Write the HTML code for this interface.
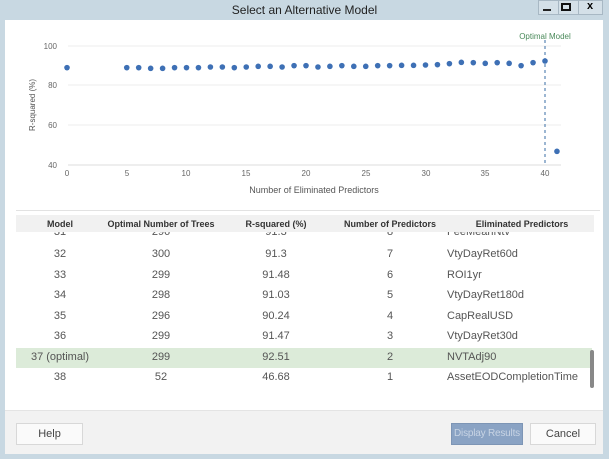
<!DOCTYPE html>
<html><head><meta charset="utf-8"><style>
*{margin:0;padding:0;box-sizing:border-box}
body{width:609px;height:459px;background:#c8d8e2;font-family:"Liberation Sans",sans-serif;position:relative;overflow:hidden}
.abs{position:absolute}
.title{left:0;top:0;width:609px;height:20px;text-align:center;font-size:12px;line-height:20px;color:#222}
.main{left:5px;top:20px;width:598px;height:390px;background:#fff}
.foot{left:5px;top:410px;width:598px;height:44px;background:#f2f2f2;border-top:1px solid #e4e4e4}
.btn{position:absolute;height:22px;border:1px solid #d8d8d8;background:#fafafa;font-size:11px;line-height:20px;text-align:center;color:#444;white-space:nowrap;overflow:hidden}
.cell{position:absolute;font-size:11px;color:#555;transform:translateX(-50%);white-space:nowrap}
.hd{position:absolute;font-size:9px;font-weight:bold;color:#333;transform:translateX(-50%);white-space:nowrap}
</style></head><body>
<div class="abs title">Select an Alternative Model</div>
<div class="abs" style="left:538px;top:0;width:65px;height:15px;background:#d4e0e8;border:1px solid #a8b8c4"></div>
<div class="abs" style="left:543px;top:9px;width:8px;height:2px;background:#222"></div>
<div class="abs" style="left:561px;top:3px;width:10px;height:8px;border:2px solid #111"></div>
<div class="abs" style="left:558px;top:0;width:1px;height:15px;background:#a8b8c4"></div>
<div class="abs" style="left:578px;top:0;width:1px;height:15px;background:#a8b8c4"></div>
<div class="abs" style="left:587px;top:0;font-size:11px;font-weight:bold">x</div>
<div class="abs main"></div>
<svg class="abs" style="left:0;top:0" width="609" height="210" font-family="Liberation Sans, sans-serif">
<g stroke="#ececec" stroke-width="1">
<line x1="68" x2="561" y1="46" y2="46"/><line x1="68" x2="561" y1="85" y2="85"/><line x1="68" x2="561" y1="125" y2="125"/>
</g>
<line x1="68" x2="561" y1="165" y2="165" stroke="#dcdcdc"/>
<g font-size="8" fill="#666" text-anchor="end">
<text x="57" y="49">100</text><text x="57" y="88">80</text><text x="57" y="128">60</text><text x="57" y="168">40</text></g>
<g font-size="8" fill="#666" text-anchor="middle">
<text x="67" y="176">0</text><text x="127" y="176">5</text><text x="186" y="176">10</text><text x="246" y="176">15</text><text x="306" y="176">20</text><text x="366" y="176">25</text><text x="426" y="176">30</text><text x="485" y="176">35</text><text x="545" y="176">40</text></g>
<text x="314" y="193" font-size="9" fill="#555" text-anchor="middle">Number of Eliminated Predictors</text>
<text transform="translate(35,105) rotate(-90)" font-size="8" fill="#555" text-anchor="middle">R-squared (%)</text>
<line x1="545" x2="545" y1="40" y2="165" stroke="#3a6ea5" stroke-dasharray="3,3"/>
<text x="545" y="39" font-size="8" fill="#4a8a5a" text-anchor="middle">Optimal Model</text>
<g fill="#3e70b5" id="pts"></g>
</svg>
<script>
var ys={0:203,5:203,6:203,7:205,8:205,9:203,10:203,11:203,12:201,13:201,14:203,15:201,16:199,17:199,18:201,19:197,20:197,21:201,22:199,23:197,24:199,25:199,26:197,27:197,28:196,29:196,30:195,31:194,32:191,33:187,34:188,35:190,36:188,37:190,38:197,39:188,40:183,41:454};
var g=document.getElementById('pts'),s='';
for(var k in ys){s+='<circle cx="'+(67+k*11.95)+'" cy="'+(ys[k]/3)+'" r="2.8"/>';}
g.innerHTML=s;
</script>
<div class="abs" style="left:16px;top:210px;width:584px;height:1px;background:#e2e2e2"></div>
<div class="abs" style="left:16px;top:215px;width:578px;height:17px;background:#f1f1f1"></div>
<div class="abs" style="left:16px;top:232px;width:578px;height:175px;overflow:hidden">
<div class="abs" style="left:0;top:116px;width:576px;height:20px;background:#dcebd9"></div>
<div id="rows"></div>
</div>
<div class="hd" style="left:60px;top:219px">Model</div>
<div class="hd" style="left:161px;top:219px">Optimal Number of Trees</div>
<div class="hd" style="left:276px;top:219px">R-squared (%)</div>
<div class="hd" style="left:390px;top:219px">Number of Predictors</div>
<div class="hd" style="left:522px;top:219px">Eliminated Predictors</div>
<div class="abs" style="left:590px;top:350px;width:4px;height:38px;background:#888;border-radius:2px"></div>
<script>
var R=[["31","296","91.3","8","FeeMeanNtv"],["32","300","91.3","7","VtyDayRet60d"],["33","299","91.48","6","ROI1yr"],["34","298","91.03","5","VtyDayRet180d"],["35","296","90.24","4","CapRealUSD"],["36","299","91.47","3","VtyDayRet30d"],["37 (optimal)","299","92.51","2","NVTAdj90"],["38","52","46.68","1","AssetEODCompletionTime"]];
var h='',xs=[44,145,260,374];
R.forEach(function(r,i){var t=(i==0?-6:23+(i-1)*20.5-7);
for(var j=0;j<4;j++)h+='<div class="cell" style="left:'+xs[j]+'px;top:'+t+'px">'+r[j]+'</div>';
h+='<div class="cell" style="left:431px;top:'+t+'px;transform:none">'+r[4]+'</div>';});
document.getElementById('rows').innerHTML=h;
</script>
<div class="abs foot"></div>
<div class="btn" style="left:16px;top:423px;width:67px">Help</div>
<div class="btn" style="left:451px;top:423px;width:72px;background:#8aa3c4;border-color:#7d95b5;color:#c8d4e4;font-size:10px;letter-spacing:-0.2px">Display Results</div>
<div class="btn" style="left:530px;top:423px;width:66px">Cancel</div>
</body></html>
